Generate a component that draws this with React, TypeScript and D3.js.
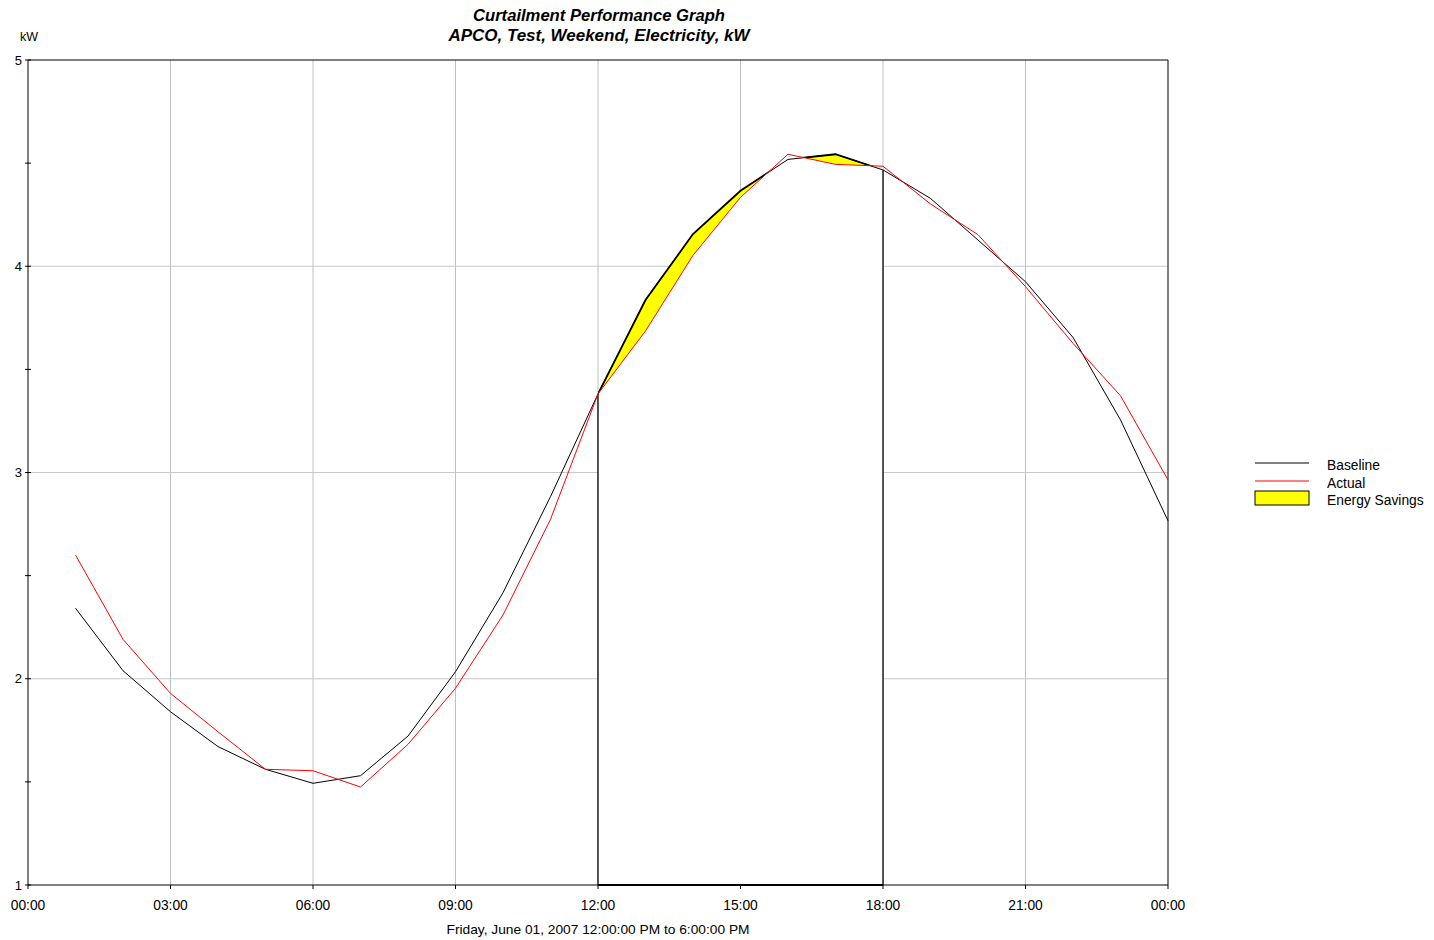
import React from "react";
import * as d3 from "d3";

const hours = [1,2,3,4,5,6,7,8,9,10,11,12,13,14,15,16,17,18,19,20,21,22,23,24];
const baseline = [2.342,2.039,1.840,1.671,1.561,1.493,1.530,1.722,2.034,2.417,2.883,3.381,3.836,4.156,4.366,4.518,4.543,4.467,4.329,4.127,3.925,3.655,3.255,2.766];
const actual = [2.600,2.191,1.929,1.743,1.561,1.554,1.475,1.682,1.954,2.309,2.773,3.381,3.686,4.053,4.334,4.543,4.494,4.485,4.302,4.153,3.901,3.626,3.372,2.964];
const xTickHours = [0,3,6,9,12,15,18,21,24];
const xTickLabels = ["00:00","03:00","06:00","09:00","12:00","15:00","18:00","21:00","00:00"];
const yMajor = [1,2,3,4,5];
const yMinor = [1.5,2.5,3.5,4.5];
const windowStart = 12;
const windowEnd = 18;
const titleLines = ["Curtailment Performance Graph","APCO, Test, Weekend, Electricity, kW"];
const subtitle = "Friday, June 01, 2007 12:00:00 PM to 6:00:00 PM";
const legendItems = ["Baseline","Actual","Energy Savings"];

export default function App() {
  const L = 28, R = 1168, T = 60, B = 885;
  const x = d3.scaleLinear().domain([0, 24]).range([L, R]);
  const y = d3.scaleLinear().domain([1, 5]).range([B, T]);
  const font = "'Liberation Sans', Arial, sans-serif";

  const pts = hours.map((h, i) => ({ h, b: baseline[i], a: actual[i] }));
  const win = pts.filter(p => p.h >= windowStart && p.h <= windowEnd);

  const lineB = d3.line<any>().x(p => x(p.h)).y(p => y(p.b));
  const lineA = d3.line<any>().x(p => x(p.h)).y(p => y(p.a));
  const areaUnderB = d3.area<any>().x(p => x(p.h)).y0(B).y1(p => y(p.b));
  const areaUnderA = d3.area<any>().x(p => x(p.h)).y0(B).y1(p => y(p.a));
  const areaAboveA = d3.area<any>().x(p => x(p.h)).y0(T - 10).y1(p => y(p.a));
  const between = d3.area<any>().x(p => x(p.h)).y0(p => y(p.a)).y1(p => y(p.b));

  const pB = win[win.length - 1];
  const p0 = win[0];

  return (
    <svg width={1434} height={940} style={{ position: "absolute", left: 0, top: 0, background: "#fff" }} fontFamily={font}>
      <defs>
        <clipPath id="belowB">
          <path d={areaUnderB(win) || ""} />
        </clipPath>
        <clipPath id="aboveA">
          <path d={areaAboveA(win) || ""} />
        </clipPath>
      </defs>
      <rect x={0} y={0} width={1434} height={940} fill="#fff" />
      {xTickHours.slice(1, -1).map(h => (
        <line key={"gx" + h} x1={x(h)} x2={x(h)} y1={T} y2={B} stroke="#c0c0c0" strokeWidth={1} />
      ))}
      {[2,3,4].map(v => (
        <line key={"gy" + v} x1={L} x2={R} y1={y(v)} y2={y(v)} stroke="#c8c8c8" strokeWidth={1} />
      ))}
      <path d={areaUnderB(win) || ""} fill="#fff" />
      <path d={areaUnderA(win) || ""} fill="#fff" />
      <path d={between(win) || ""} fill="#ffff00" clipPath="url(#belowB)" />
      <line x1={x(windowStart)} x2={x(windowStart)} y1={y(p0.b)} y2={B} stroke="#000" strokeWidth={1.3} />
      <line x1={x(windowEnd)} x2={x(windowEnd)} y1={y(pB.b)} y2={B} stroke="#000" strokeWidth={1.3} />
      <line x1={x(windowStart)} x2={x(windowEnd)} y1={B} y2={B} stroke="#000" strokeWidth={2} />
      <line x1={L} x2={R} y1={T} y2={T} stroke="#000" strokeWidth={1} />
      <line x1={R} x2={R} y1={T} y2={B} stroke="#000" strokeWidth={1} />
      <line x1={L} x2={L} y1={T} y2={B} stroke="#000" strokeWidth={1} />
      <line x1={L} x2={R} y1={B} y2={B} stroke="#000" strokeWidth={1} />
      <path d={lineB(pts) || ""} fill="none" stroke="#000" strokeWidth={1} />
      <path d={lineB(win) || ""} fill="none" stroke="#000" strokeWidth={1.8} clipPath="url(#aboveA)" />
      <path d={lineA(pts) || ""} fill="none" stroke="#ff0000" strokeWidth={1} />
      {yMajor.map(v => (
        <g key={"ym" + v}>
          <line x1={L - 3} x2={L + 3} y1={y(v)} y2={y(v)} stroke="#000" />
          <text x={22} y={y(v)} dy="0.35em" textAnchor="end" fontSize={13} fill="#000">{v}</text>
        </g>
      ))}
      {yMinor.map(v => (
        <line key={"yn" + v} x1={L - 3} x2={L + 3} y1={y(v)} y2={y(v)} stroke="#000" />
      ))}
      <text x={20} y={41} fontSize={12.5} fill="#000">kW</text>
      {xTickHours.map((h, i) => (
        <g key={"xt" + i}>
          <line x1={x(h)} x2={x(h)} y1={B} y2={B + 4} stroke="#000" />
          <text x={x(h)} y={910} textAnchor="middle" fontSize={13.8} fill="#000">{xTickLabels[i]}</text>
        </g>
      ))}
      <text x={598} y={934} textAnchor="middle" fontSize={13} fill="#000" textLength={303} lengthAdjust="spacingAndGlyphs">{subtitle}</text>
      <text x={599} y={21} textAnchor="middle" fontSize={16.5} fontWeight="bold" fontStyle="italic" fill="#000" textLength={252} lengthAdjust="spacingAndGlyphs">{titleLines[0]}</text>
      <text x={599} y={41} textAnchor="middle" fontSize={16.5} fontWeight="bold" fontStyle="italic" fill="#000" textLength={301} lengthAdjust="spacingAndGlyphs">{titleLines[1]}</text>
      <line x1={1255} x2={1309} y1={463} y2={463} stroke="#000" strokeWidth={1} />
      <line x1={1255} x2={1309} y1={481} y2={481} stroke="#ff0000" strokeWidth={1} />
      <rect x={1255} y={491} width={54} height={14} fill="#ffff00" stroke="#000" strokeWidth={1} />
      {legendItems.map((t, i) => (
        <text key={t} x={1327} y={470 + i * 17.5} fontSize={13.8} fill="#000">{t}</text>
      ))}
    </svg>
  );
}
